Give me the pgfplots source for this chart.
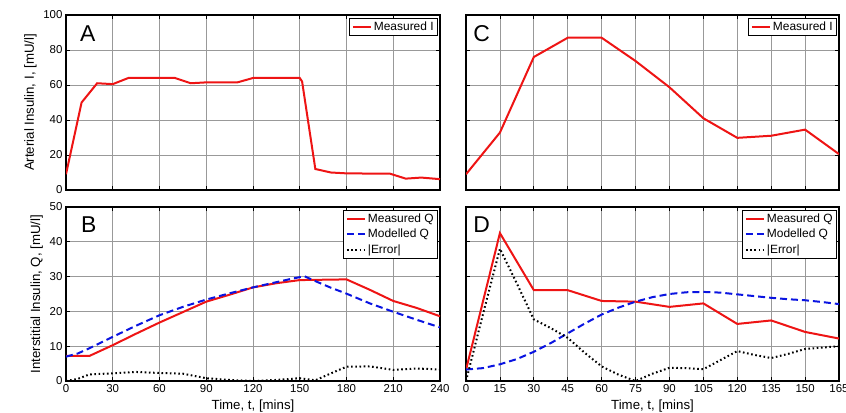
\documentclass[border=0pt]{standalone}
\usepackage{fontspec}
\setmainfont{Liberation Sans}
\usepackage{pgfplots}
\pgfplotsset{compat=1.18}

\definecolor{measred}{RGB}{238,20,20}
\definecolor{modblue}{RGB}{10,20,225}

\tikzset{
  letter/.style={anchor=west, inner sep=0pt, font=\fontsize{23}{26}\selectfont},
}

\pgfplotsset{
  panel/.style={
    scale only axis,
    axis line style={line width=1.3bp},
    grid=major,
    major grid style={black!40, line width=0.7bp},
    tick align=inside,
    major tick length=4bp,
    tick style={black, line width=0.8bp},
    /pgf/number format/assume math mode=true,
    ticklabel style={font=\fontsize{11.5}{13}\selectfont},
    label style={font=\fontsize{13.3}{15}\selectfont},
    legend cell align=left,
    legend image code/.code={\draw[#1] (0bp,0bp) -- (18bp,0bp);},
    legend style={
      at={(rel axis cs:0.995,0.983)}, anchor=north east,
      draw=black, line width=0.9bp,
      font=\fontsize{12}{14}\selectfont,
      inner xsep=2bp, inner ysep=1bp, row sep=0.5bp,
      nodes={text height=8.6bp, text depth=2.4bp, inner ysep=2bp},
    },
  },
  measured/.style={measred, line width=2bp},
  modelled/.style={modblue, line width=2bp, dash pattern=on 7bp off 4bp},
  errline/.style={black, line width=2bp, dash pattern=on 1.6bp off 2.6bp},
}

\begin{document}
\begin{tikzpicture}[x=1bp, y=1bp]
\path[use as bounding box] (0,0) rectangle (846,412);

% Panel A: arterial insulin, long protocol
\begin{axis}[panel, at={(66bp,222bp)}, anchor=south west,
  width=374bp, height=175bp,
  xmin=0, xmax=240, xtick={0,30,...,240}, xticklabel=\empty,
  ymin=0, ymax=100, ytick={0,20,...,100},
  ylabel={Arterial Insulin, I, [mU/l]}]
\addplot[measured] coordinates {
  (0,9) (10,50) (20,61) (30,60.5) (40,64) (70,64) (80,61) (90,61.5)
  (110,61.5) (120,64) (150,64) (151.5,62) (160,12) (170,10) (180,9.5)
  (208,9.3) (218,6.5) (228,7.1) (240,6.2)};
\addlegendentry{Measured I}
\node[letter] at (rel axis cs:0.0374,0.895) {A};
\end{axis}

% Panel B: interstitial insulin, long protocol
\begin{axis}[panel, at={(66bp,31bp)}, anchor=south west,
  width=374bp, height=174bp,
  xmin=0, xmax=240, xtick={0,30,...,240},
  ymin=0, ymax=50, ytick={0,10,...,50},
  xlabel={Time, t, [mins]},
  ylabel={Interstitial Insulin, Q, [mU/l]}]
\addplot[measured] coordinates {
  (0,7.2) (15,7.2) (30,10.3) (45,13.6) (60,16.8) (75,19.8) (90,22.8)
  (105,24.8) (120,26.9) (135,28.1) (150,29.0) (165,29.1) (180,29.2)
  (195,26.2) (210,23.0) (225,21.0) (240,18.6)};
\addlegendentry{Measured Q}
\addplot[modelled] coordinates {
  (0,7.0) (7.5,7.9) (15,9.4) (30,12.7) (45,15.9) (60,18.9) (75,21.3)
  (90,23.4) (105,25.2) (120,26.9) (135,28.4) (145,29.4) (153,30.1)
  (160,28.7) (170,26.8) (180,25.1) (195,22.3) (210,19.9) (225,17.6)
  (240,15.4)};
\addlegendentry{Modelled Q}
\addplot[errline] coordinates {
  (0,0) (7.5,0.6) (15,1.9) (30,2.2) (45,2.6) (60,2.3) (75,2.1) (90,0.8)
  (105,0.3) (120,0) (135,0.3) (150,0.8) (160,0.2) (170,2.2) (180,4.1)
  (195,4.2) (210,3.2) (225,3.6) (240,3.3)};
\addlegendentry{|Error|}
\node[letter] at (rel axis cs:0.040,0.897) {B};
\end{axis}

% Panel C: arterial insulin, short protocol
\begin{axis}[panel, at={(466bp,222bp)}, anchor=south west,
  width=373bp, height=175bp,
  xmin=0, xmax=165, xtick={0,15,...,165}, xticklabel=\empty,
  ymin=0, ymax=100, ytick={0,20,...,100}, yticklabel=\empty]
\addplot[measured] coordinates {
  (0,9) (15,32.8) (30,76) (45,87) (60,87) (75,73.7) (90,58.7)
  (105,41) (120,29.8) (135,31) (150,34.5) (165,20.5)};
\addlegendentry{Measured I}
\node[letter] at (rel axis cs:0.019,0.895) {C};
\end{axis}

% Panel D: interstitial insulin, short protocol
\begin{axis}[panel, at={(466bp,31bp)}, anchor=south west,
  width=373bp, height=174bp,
  xmin=0, xmax=165, xtick={0,15,...,165},
  ymin=0, ymax=50, ytick={0,10,...,50}, yticklabel=\empty,
  xlabel={Time, t, [mins]}]
\addplot[measured] coordinates {
  (0,3.2) (15,42.5) (30,26.1) (45,26.1) (60,23.0) (75,22.8) (90,21.3)
  (105,22.3) (120,16.4) (135,17.4) (150,14.1) (165,12.2)};
\addlegendentry{Measured Q}
\addplot[modelled] coordinates {
  (0,3.3) (7.5,3.7) (15,4.8) (22.5,6.3) (30,8.4) (37.5,10.9) (45,13.7)
  (52.5,16.5) (60,19.1) (67.5,21.1) (75,22.8) (82.5,24.1) (90,25.0)
  (97.5,25.5) (105,25.6) (112.5,25.4) (120,24.9) (127.5,24.4)
  (135,23.9) (142.5,23.5) (150,23.2) (157.5,22.7) (165,22.1)};
\addlegendentry{Modelled Q}
\addplot[errline] coordinates {
  (0,0) (7.5,19.2) (15,38) (22.5,28.0) (30,17.7) (37.5,15.2) (45,12.4)
  (52.5,8.1) (60,4.2) (67.5,1.8) (75,0) (82.5,2.1) (90,3.8) (97.5,3.7)
  (105,3.4) (112.5,6.0) (120,8.6) (127.5,7.5) (135,6.6) (142.5,7.8)
  (150,9.2) (157.5,9.6) (165,10.0)};
\addlegendentry{|Error|}
\node[letter] at (rel axis cs:0.019,0.897) {D};
\end{axis}
\end{tikzpicture}
\end{document}
